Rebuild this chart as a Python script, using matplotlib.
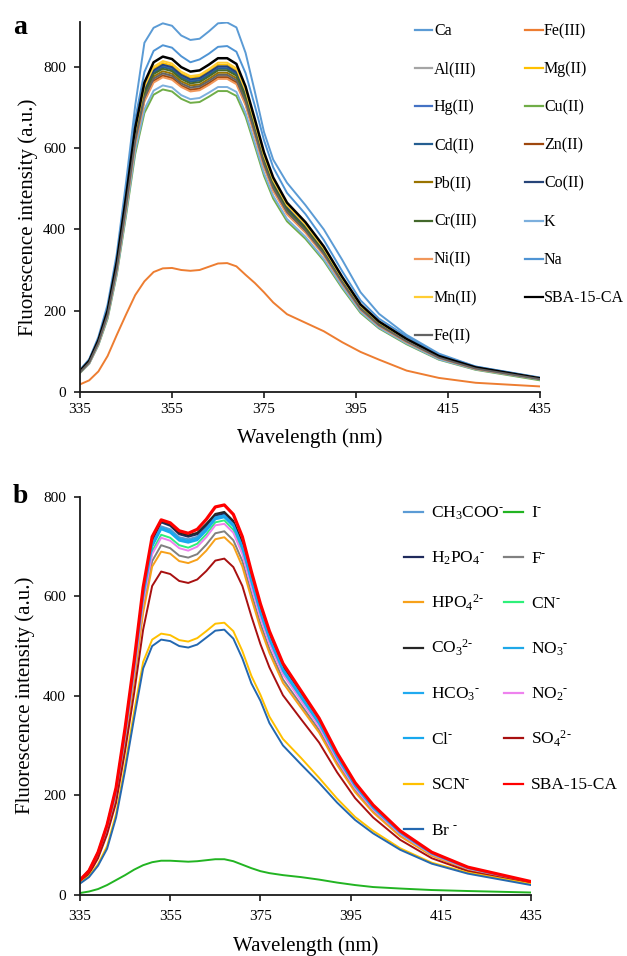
import matplotlib
matplotlib.use('Agg')
import matplotlib.pyplot as plt
from matplotlib.lines import Line2D

plt.rcParams['font.family'] = ['Liberation Serif', 'DejaVu Serif']
plt.rcParams['mathtext.fontset'] = 'custom'
plt.rcParams['mathtext.rm'] = 'Liberation Serif'
plt.rcParams['mathtext.it'] = 'Liberation Serif:italic'

# wavelength grid (nm), shared by both panels
wl = [335, 337, 339, 341, 343, 345, 347, 349, 351, 353, 355, 357, 359, 361, 363, 365,
      367, 369, 371, 373, 375, 377, 380, 384, 388, 392, 396, 400, 406, 413, 421, 435]

# ---- panel a : metal ions ----
ca = [54, 80, 135, 215, 340, 515, 705, 860, 897, 908, 902, 878, 867, 870, 888, 908,
      910, 898, 835, 740, 640, 572, 515, 460, 400, 325, 245, 192, 140, 94, 62, 35]
fe3 = [18, 28, 50, 88, 140, 190, 238, 272, 295, 304, 305, 300, 298, 300, 308, 316,
       317, 309, 288, 268, 245, 220, 191, 170, 149, 122, 98, 79, 52, 34, 22, 13]
al3 = [48, 72, 120, 189, 303, 454, 615, 721, 769, 782, 776, 757, 747, 750, 763, 778,
       778, 765, 712, 636, 559, 500, 441, 396, 339, 268, 204, 164, 123, 83, 57, 31]
mg2 = [50, 75, 125, 196, 314, 471, 637, 747, 796, 810, 804, 784, 774, 777, 790, 806,
       806, 792, 737, 659, 579, 518, 457, 410, 351, 278, 211, 170, 127, 86, 59, 32]
hg2 = [50, 74, 123, 194, 311, 467, 632, 741, 789, 803, 797, 778, 767, 770, 784, 799,
       799, 786, 731, 653, 574, 513, 453, 406, 348, 275, 209, 168, 126, 86, 58, 32]
cu2 = [46, 69, 115, 180, 289, 433, 586, 687, 732, 745, 740, 722, 712, 714, 727, 741,
       741, 729, 678, 606, 532, 476, 420, 377, 323, 255, 194, 156, 117, 79, 54, 28]
cd2 = [49, 74, 123, 194, 310, 465, 630, 738, 786, 800, 794, 775, 764, 767, 781, 796,
       796, 783, 728, 651, 571, 511, 451, 405, 347, 274, 208, 168, 126, 85, 58, 32]
zn2 = [48, 72, 120, 189, 302, 453, 613, 719, 766, 779, 773, 754, 744, 747, 760, 775,
       775, 762, 709, 634, 556, 498, 439, 394, 338, 267, 203, 163, 123, 83, 57, 31]
pb2 = [49, 73, 121, 191, 306, 459, 622, 729, 777, 790, 784, 765, 755, 757, 771, 786,
       786, 773, 719, 643, 564, 505, 446, 400, 342, 271, 206, 165, 124, 84, 57, 32]
co2 = [50, 74, 124, 195, 312, 468, 634, 744, 792, 806, 800, 781, 770, 773, 787, 802,
       802, 788, 734, 656, 576, 515, 455, 408, 349, 276, 210, 169, 127, 86, 59, 32]
cr3 = [49, 73, 122, 193, 308, 463, 626, 734, 783, 796, 790, 771, 760, 763, 777, 792,
       792, 779, 725, 648, 569, 509, 449, 403, 345, 273, 207, 167, 125, 85, 58, 32]
k = [47, 69, 116, 183, 292, 439, 594, 696, 742, 755, 750, 731, 721, 724, 737, 751,
     751, 739, 687, 614, 539, 483, 426, 382, 327, 259, 197, 158, 119, 80, 55, 30]
ni2 = [48, 71, 119, 188, 300, 450, 610, 715, 762, 775, 769, 751, 740, 743, 756, 771,
       771, 758, 706, 631, 554, 495, 437, 392, 336, 266, 202, 162, 122, 83, 56, 31]
na = [53, 79, 131, 207, 331, 496, 672, 788, 840, 854, 848, 827, 812, 819, 833, 850,
      852, 838, 785, 705, 620, 553, 490, 438, 374, 297, 225, 180, 136, 91, 62, 34]
mn2 = [50, 75, 125, 197, 316, 474, 641, 752, 801, 815, 809, 789, 778, 781, 795, 811,
       811, 797, 742, 663, 582, 521, 460, 412, 353, 279, 212, 171, 128, 87, 59, 33]
sba_a = [51, 76, 127, 200, 320, 480, 650, 762, 812, 826, 820, 800, 789, 792, 806, 822,
         822, 808, 752, 672, 590, 528, 466, 418, 358, 283, 215, 173, 130, 88, 60, 33]
fe2 = [48, 72, 121, 190, 304, 456, 618, 724, 772, 785, 779, 760, 750, 753, 766, 781,
       781, 768, 715, 639, 561, 502, 443, 397, 340, 269, 204, 164, 124, 84, 57, 31]

names_a = ['Ca', 'Fe(III)', 'Al(III)', 'Mg(II)', 'Hg(II)', 'Cu(II)', 'Cd(II)', 'Zn(II)',
           'Pb(II)', 'Co(II)', 'Cr(III)', 'K', 'Ni(II)', 'Na', 'Mn(II)', 'SBA-15-CA', 'Fe(II)']
series_a = [ca, fe3, al3, mg2, hg2, cu2, cd2, zn2, pb2, co2, cr3, k, ni2, na, mn2, sba_a, fe2]
colors_a = ['#5B9BD5', '#ED7D31', '#A5A5A5', '#FFC000', '#4472C4', '#70AD47', '#255E91',
            '#9E480E', '#997300', '#264478', '#43682B', '#7CAFDD', '#F1975A', '#4F94D4',
            '#FFCD33', '#000000', '#636363']

# ---- panel b : anions ----
ch3coo = [28, 47, 83, 137, 211, 328, 460, 605, 707, 741, 735, 719, 715, 720, 739, 761,
          765, 747, 703, 635, 572, 519, 456, 403, 348, 280, 221, 177, 126, 84, 54, 25]
i_ion = [3, 6, 11, 19, 29, 39, 50, 59, 65, 68, 68, 67, 66, 67, 69, 71,
         71, 67, 60, 53, 47, 43, 39, 35, 30, 24, 19, 15, 12, 9, 7, 4]
h2po4 = [29, 48, 84, 139, 213, 331, 464, 611, 714, 749, 742, 725, 720, 725, 743, 763,
         767, 749, 705, 637, 574, 521, 458, 404, 350, 281, 222, 178, 126, 84, 54, 25]
f_ion = [27, 45, 79, 130, 200, 312, 438, 576, 671, 703, 697, 682, 678, 685, 704, 727,
         731, 713, 671, 606, 545, 494, 433, 382, 331, 266, 210, 168, 119, 79, 51, 24]
hpo4 = [27, 44, 78, 128, 197, 307, 431, 567, 660, 690, 686, 671, 667, 674, 692, 715,
        719, 702, 660, 596, 536, 486, 426, 376, 326, 261, 206, 165, 117, 78, 50, 24]
cn = [28, 46, 82, 134, 206, 322, 451, 593, 691, 724, 718, 703, 698, 706, 725, 749,
      753, 734, 691, 624, 562, 509, 446, 394, 341, 274, 216, 173, 123, 82, 53, 25]
co3 = [29, 48, 85, 140, 214, 333, 467, 614, 717, 752, 745, 728, 723, 728, 746, 766,
       770, 752, 708, 640, 577, 524, 461, 406, 352, 283, 224, 179, 127, 84, 54, 25]
no3 = [28, 47, 83, 137, 210, 326, 458, 602, 704, 738, 732, 716, 712, 717, 736, 759,
       763, 745, 701, 633, 570, 517, 454, 401, 347, 279, 220, 176, 125, 83, 54, 25]
hco3 = [28, 47, 82, 136, 209, 325, 456, 600, 702, 737, 730, 714, 710, 715, 734, 757,
        761, 743, 699, 631, 568, 515, 452, 399, 346, 278, 219, 175, 125, 83, 54, 25]
no2 = [28, 46, 81, 133, 205, 319, 447, 588, 685, 718, 712, 697, 692, 700, 719, 743,
       746, 728, 685, 619, 557, 505, 443, 390, 338, 271, 214, 171, 122, 81, 52, 25]
cl = [28, 46, 82, 136, 208, 324, 455, 598, 700, 735, 728, 712, 708, 713, 732, 755,
      759, 741, 697, 629, 566, 513, 450, 397, 344, 276, 218, 174, 124, 82, 53, 25]
so4 = [25, 41, 73, 121, 185, 289, 405, 533, 621, 650, 645, 631, 627, 634, 651, 672,
       676, 659, 621, 560, 504, 457, 401, 353, 306, 246, 194, 155, 110, 73, 47, 22]
scn = [23, 37, 61, 97, 162, 260, 368, 468, 513, 525, 522, 512, 509, 516, 530, 545,
       547, 530, 490, 440, 402, 358, 313, 275, 235, 193, 156, 128, 93, 64, 44, 21]
sba_b = [29, 48, 85, 140, 215, 335, 470, 618, 720, 754, 748, 732, 727, 735, 755, 780,
         784, 765, 720, 650, 585, 530, 465, 410, 355, 285, 225, 180, 128, 85, 55, 26]
br = [22, 35, 58, 92, 155, 250, 355, 455, 500, 513, 510, 500, 497, 503, 517, 531,
      533, 515, 475, 425, 390, 345, 300, 262, 225, 185, 150, 123, 90, 62, 42, 19]

HY = '\u2010'  # short hyphen used as the charge sign in the original
names_b = [r'CH$_\mathrm{3}$COO$^\mathrm{' + HY + '}$', r'I$^\mathrm{' + HY + '}$',
           r'H$_\mathrm{2}$PO$_\mathrm{4}$$^\mathrm{' + HY + '}$', r'F$^\mathrm{' + HY + '}$',
           r'HPO$_\mathrm{4}$$^\mathrm{2' + HY + '}$', r'CN$^\mathrm{' + HY + '}$',
           r'CO$_\mathrm{3}$$^\mathrm{2' + HY + '}$', r'NO$_\mathrm{3}$$^\mathrm{' + HY + '}$',
           r'HCO$_\mathrm{3}$$^\mathrm{' + HY + '}$', r'NO$_\mathrm{2}$$^\mathrm{' + HY + '}$',
           r'Cl$^\mathrm{' + HY + '}$', r'SO$_\mathrm{4}$$^\mathrm{2' + HY + '}$',
           r'SCN$^\mathrm{' + HY + '}$', 'SBA-15-CA', r'Br $^\mathrm{' + HY + '}$']
series_b = [ch3coo, i_ion, h2po4, f_ion, hpo4, cn, co3, no3, hco3, no2, cl, so4, scn, sba_b, br]
colors_b = ['#5B9BD5', '#22B422', '#1F2A5C', '#808080', '#F7A11A', '#2EF07A', '#262626',
            '#1FA8E8', '#20AAF0', '#EE82EE', '#18A8EE', '#A81010', '#FFC000', '#FF0000',
            '#2468B0']

W, H = 627, 956
fig = plt.figure(figsize=(W / 100, H / 100), dpi=100)


def box(l, t, r, b):
    return [l / W, 1 - b / H, (r - l) / W, (b - t) / H]


def style(ax, ymax, xpad, xlabpad):
    ax.set_xlim(335, 435)
    ax.set_ylim(0, ymax)
    ax.set_xticks(range(335, 436, 20))
    ax.set_yticks([0, 200, 400, 600, 800])
    for s in ['top', 'right']:
        ax.spines[s].set_visible(False)
    for s in ['left', 'bottom']:
        ax.spines[s].set_linewidth(1.3)
        ax.spines[s].set_color('#1a1a1a')
    ax.tick_params(direction='out', length=4, width=1.2, labelsize=11, color='#1a1a1a')
    ax.tick_params(axis='y', pad=6)
    ax.tick_params(axis='x', pad=xpad)
    ax.set_xlabel('Wavelength (nm)', fontsize=15, labelpad=xlabpad)
    ax.set_ylabel('Fluorescence intensity (a.u.)', fontsize=15, labelpad=6)


def key(names, colors, x0, y0, col_dx, row_dy, hlen, gap, fs, lw):
    # two-column legend, filled row by row like the original
    for i, (n, c) in enumerate(zip(names, colors)):
        r, col = divmod(i, 2)
        x = x0 + col * col_dx
        y = y0 + r * row_dy
        fig.add_artist(Line2D([x / W, (x + hlen) / W], [1 - y / H, 1 - y / H],
                              color=c, lw=lw, transform=fig.transFigure))
        fig.text((x + hlen + gap) / W, 1 - (y + fs * 0.46) / H, n, fontsize=fs,
                 va='baseline', ha='left')


ax_a = fig.add_axes(box(80, 21.7, 540, 391.7))
for name, ys, c in zip(names_a, series_a, colors_a):
    ax_a.plot(wl, ys, color=c, lw=1.8 if name == 'SBA-15-CA' else 1.4,
              solid_joinstyle='round')
style(ax_a, 912, 4, 9)
ax_a.yaxis.set_label_coords(-0.092, 0.472)
key(names_a, colors_a, 415, 30, 110, 38.1, 17.5, 1.5, 11.5, 1.6)

ax_b = fig.add_axes(box(80, 497, 531, 894.5))
for name, ys, c in zip(names_b, series_b, colors_b):
    ax_b.plot(wl, ys, color=c, lw=2.3 if name == 'SBA-15-CA' else 1.4,
              solid_joinstyle='round')
style(ax_b, 800, 7, 10)
key(names_b, colors_b, 404, 511.7, 99.7, 45.3, 19, 8, 12.5, 1.6)

fig.text(13 / W, 1 - 34 / H, 'a', fontsize=20, fontweight='bold', va='baseline')
fig.text(13 / W, 1 - 503 / H, 'b', fontsize=20, fontweight='bold', va='baseline')

fig.savefig('out.png', dpi=100)
